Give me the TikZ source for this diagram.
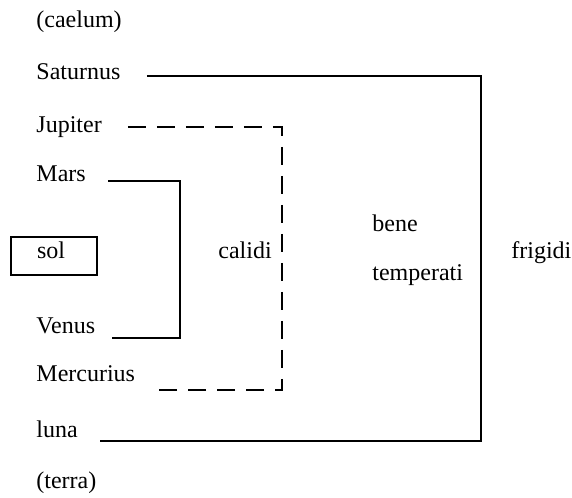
\documentclass[tikz,border=0pt]{standalone}
\usepackage{fontspec}
\setmainfont{Liberation Serif}
\usepackage{tikz}
\usetikzlibrary{calc}

\tikzset{
  planet/.style={anchor=base west,inner sep=0pt},
  zone/.style={line width=1pt},
  zonedash/.style={line width=1.2pt,dash pattern=on 9pt off 5.5pt},
}

\begin{document}
\begin{tikzpicture}[font=\fontsize{12}{14}\selectfont]
      \useasboundingbox (0,0) rectangle (10.052,8.734);
      % the spheres, top to bottom
      \node [planet] (caelum) at (0.633,8.242) {(caelum)};
      \node [planet] (saturnus) at (0.633,7.345) {Saturnus};
      \node [planet] (jupiter) at (0.633,6.397) {Jupiter};
      \node [planet] (mars) at (0.633,5.553) {Mars};
      \node [draw,line width=1pt,anchor=base west,inner xsep=13pt,inner ysep=3pt,
             text width=17pt,text height=7.5pt,text depth=5.5pt,align=left]
             (sol) at (0.176,4.200) {sol};
      \node [planet] (venus) at (0.633,2.882) {Venus};
      \node [planet] (mercurius) at (0.633,2.038) {Mercurius};
      \node [planet] (luna) at (0.633,1.037) {luna};
      \node [planet] (terra) at (0.633,0.141) {(terra)};
      % qualities
      \node [planet] (calidi) at (3.831,4.200) {calidi};
      \node [planet] (bene) at (6.537,4.674) {bene};
      \node [planet] (temperati) at (6.537,3.796) {temperati};
      \node [planet] (frigidi) at (8.980,4.200) {frigidi};
      % bracket ends
      \coordinate (sat-r) at (2.583,7.398);
      \coordinate (luna-r) at (1.757,0.984);
      \coordinate (frig-c) at (8.453,0.984);
      \coordinate (jup-r) at (2.249,6.502);
      \coordinate (merc-r) at (2.759,1.880);
      \coordinate (cal-c) at (4.956,1.880);
      \coordinate (mars-r) at (1.898,5.553);
      \coordinate (ven-r) at (1.968,2.794);
      \coordinate (mars-c) at (3.163,2.794);
      \draw [zone] (sat-r) -| (frig-c) -- (luna-r);
      \draw [zonedash] (jup-r) -| (cal-c) -- (merc-r);
      \draw [zone] (mars-r) -| (mars-c) -- (ven-r);
\end{tikzpicture}
\end{document}
